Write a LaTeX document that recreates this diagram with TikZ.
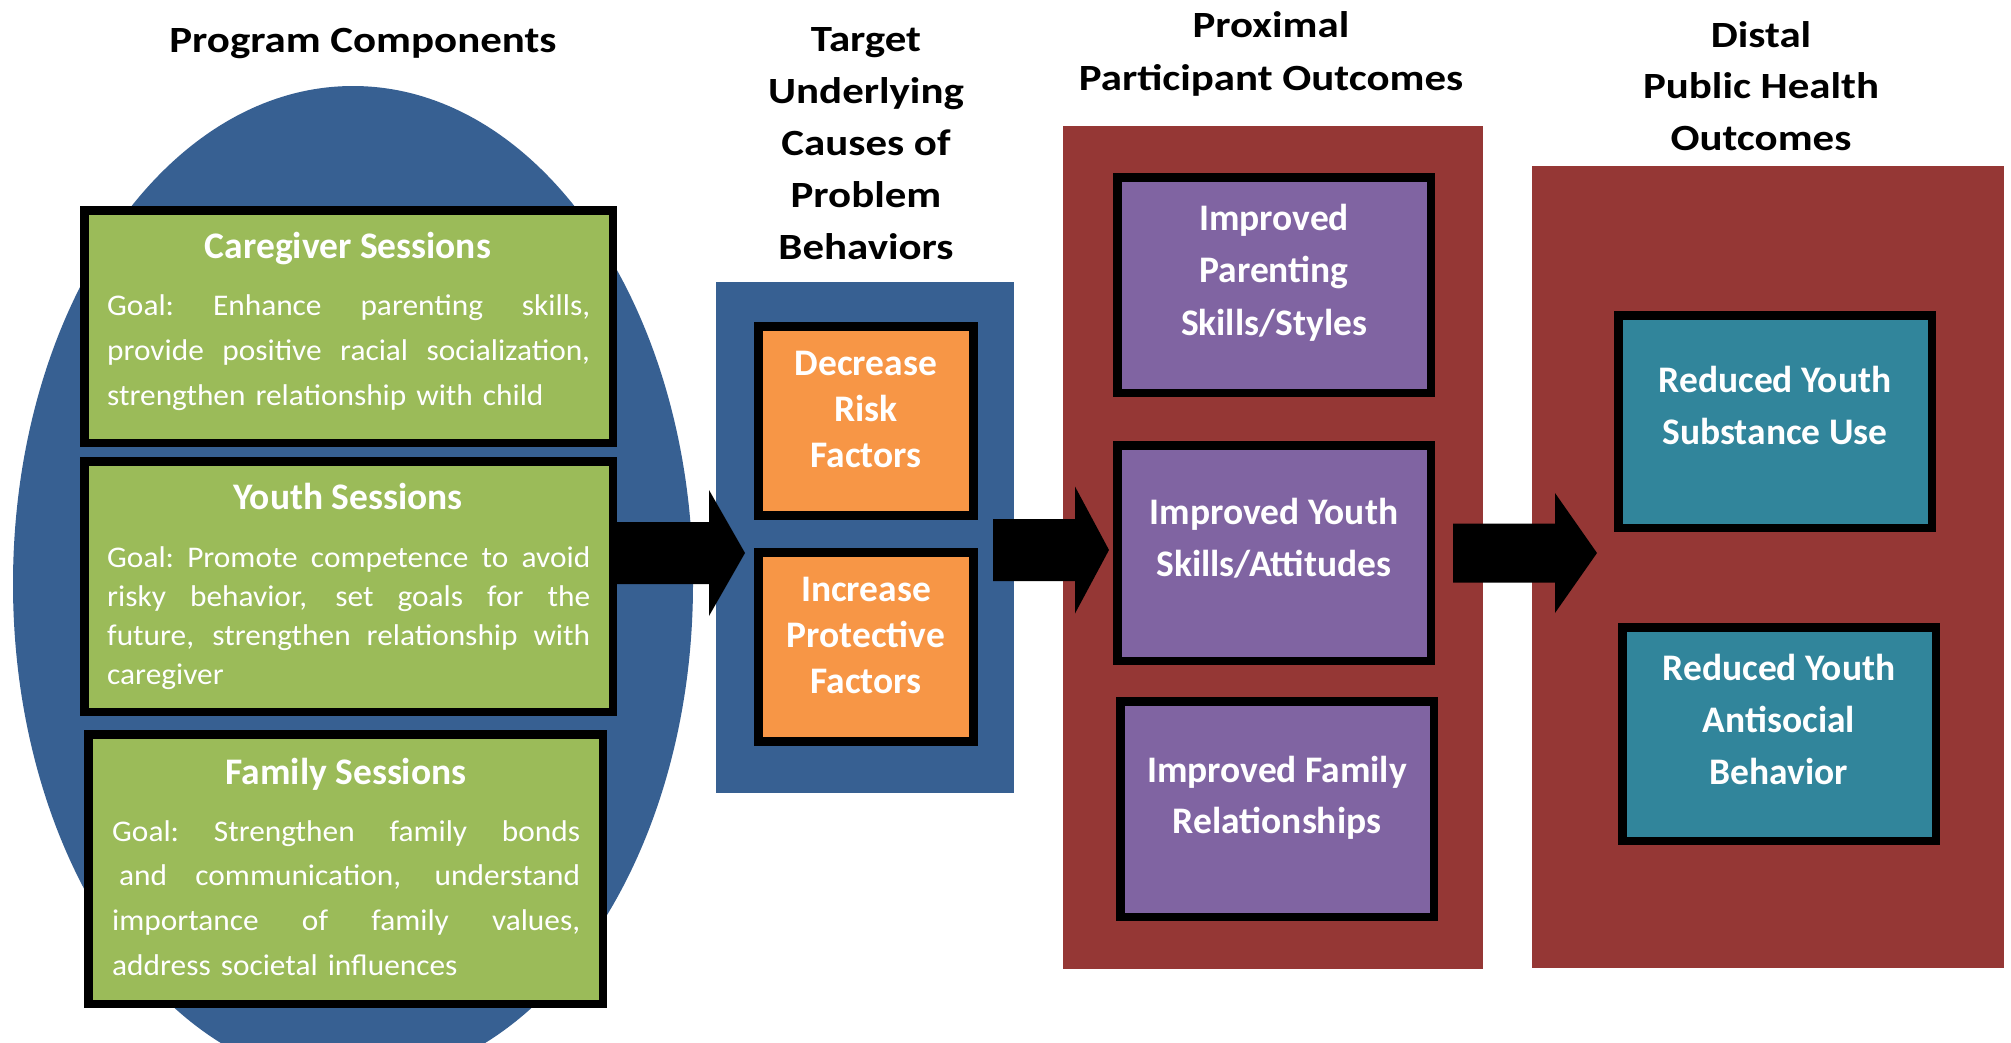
\documentclass[tikz,border=0pt]{standalone}
\usepackage{fontspec}
\setmainfont{Carlito}
\newfontfamily\headfont{Carlito}[FakeStretch=1.16]
\newfontfamily\goalfont{Carlito}[FakeStretch=1.045]
\usetikzlibrary{calc,shapes.geometric}

\definecolor{ovalblue}{RGB}{55,96,146}
\definecolor{sessgreen}{RGB}{155,187,89}
\definecolor{factorange}{RGB}{247,150,70}
\definecolor{outred}{RGB}{149,55,53}
\definecolor{proxpurple}{RGB}{128,100,162}
\definecolor{distteal}{RGB}{49,133,155}

% filled panel given by its outer corners: name, style, x1, y1, x2, y2
\newcommand\panelnode[6]{%
  \node[panel,#2, minimum width={#5-#3}, minimum height={#6-#4}]
    (#1) at ({(#3+#5)/2},{(#4+#6)/2}) {};}
% framed box given by its outer corners (frame drawn inside them)
\newcommand\framednode[6]{%
  \node[framed,#2, minimum width={#5-#3-8.5}, minimum height={#6-#4-8.5}]
    (#1) at ({(#3+#5)/2},{(#4+#6)/2}) {};}
% block arrow: start, tip, half shaft, half head, head length
\newcommand\blockarrow[5]{%
  \fill[black] ($(#1)+(0,-#3)$) -- ($(#2)+(-#5,-#3)$) -- ($(#2)+(-#5,-#4)$)
    -- (#2) -- ($(#2)+(-#5,#4)$) -- ($(#2)+(-#5,#3)$) -- ($(#1)+(0,#3)$) -- cycle;}
% one fully justified line of a goal paragraph (interword spaces stretch)
\newcommand\jline[1]{\leavevmode\hbox to \hsize{%
  \spaceskip=\fontdimen2\font plus 1fil\relax\xspaceskip=\spaceskip #1}}

\begin{document}
\begin{tikzpicture}[x=1pt,y=-1pt,
  panel/.style={rectangle, draw=none, inner sep=0pt, outer sep=0pt},
  framed/.style={rectangle, draw=black, line width=8.5pt, inner sep=0pt, outer sep=0pt},
  heading/.style={font=\headfont\fontsize{37}{52}\selectfont\bfseries, align=center,
    anchor=base, inner sep=0pt, text=black},
  boxlabel/.style={font=\fontsize{37.5}{52}\selectfont\bfseries, align=center,
    anchor=base, inner sep=0pt, text=white},
  goaltext/.style={font=\goalfont\fontsize{30}{45}\selectfont, align=left,
    anchor=base west, inner sep=0pt, text=white},
]
\useasboundingbox (0,0) rectangle (2011,1042);
\fill[white] (0,0) rectangle (2011,1042);
\clip (0,0) rectangle (2011,1042);

% ---- column headings (anchored at the baseline of their last line)
\node[heading] (hProg) at (363,52) {Program Components};
\node[heading] (hTarget) at (866,259) {Target\\Underlying\\Causes of\\Problem\\Behaviors};
\node[heading, font=\headfont\fontsize{37}{53}\selectfont\bfseries] (hProx) at (1271,90)
  {Proximal\\Participant Outcomes};
\node[heading, font=\headfont\fontsize{37}{51.5}\selectfont\bfseries] (hDist) at (1761,150)
  {Distal\\Public Health\\Outcomes};

% ---- program components
\node[ellipse, fill=ovalblue, inner sep=0pt, minimum width=680, minimum height=996]
  (oval) at (353,584) {};

\framednode{caregiver}{fill=sessgreen}{80}{206}{617}{447}
\framednode{youth}{fill=sessgreen}{80}{457}{617}{716}
\framednode{family}{fill=sessgreen}{84}{730}{607}{1008}

% goal paragraphs are anchored at the baseline of their first line
\node[boxlabel] (cgTitle) at (348,258) {Caregiver Sessions};
\node[goaltext, text width=483] (cgGoal) at (107,315)
  {\jline{Goal: Enhance parenting skills,}\\
   \jline{provide positive racial socialization,}\\
   strengthen relationship with child};

\node[boxlabel] (ySTitle) at (348,509) {Youth Sessions};
\node[goaltext, text width=483, font=\goalfont\fontsize{30}{39.3}\selectfont] (yGoal) at (107,567)
  {\jline{Goal: Promote competence to avoid}\\
   \jline{risky behavior, set goals for the}\\
   \jline{future, strengthen relationship with}\\
   caregiver};

\node[boxlabel] (fmTitle) at (346,784) {Family Sessions};
\node[goaltext, text width=468, font=\goalfont\fontsize{30}{44.7}\selectfont] (fmGoal) at (112,841)
  {\jline{Goal: Strengthen family bonds}\\
   \jline{\hspace*{7pt}and communication, understand}\\
   \jline{importance of family values,}\\
   address societal influences};

% ---- underlying causes
\panelnode{target}{fill=ovalblue}{716}{282}{1014}{793}
\framednode{risk}{fill=factorange, line width=9pt}{754}{322}{978}{520}
\framednode{protect}{fill=factorange, line width=9pt}{754}{548}{978}{746}
\node[boxlabel, font=\fontsize{37.5}{46}\selectfont\bfseries] (riskTxt) at (866,467)
  {Decrease\\Risk\\Factors};
\node[boxlabel, font=\fontsize{37.5}{46}\selectfont\bfseries] (protTxt) at (866,693)
  {Increase\\Protective\\Factors};

% ---- proximal outcomes
\panelnode{prox}{fill=outred}{1063}{126}{1483}{969}
\framednode{parent}{fill=proxpurple}{1113}{173}{1435}{397}
\framednode{yskill}{fill=proxpurple}{1113}{441}{1435}{665}
\framednode{famrel}{fill=proxpurple}{1116}{697}{1438}{921}
\node[boxlabel, font=\fontsize{37.5}{52.5}\selectfont\bfseries] (parentTxt) at (1274,335)
  {Improved\\Parenting\\Skills/Styles};
\node[boxlabel] (yskillTxt) at (1274,576) {Improved Youth\\Skills/Attitudes};
\node[boxlabel, font=\fontsize{37.5}{51}\selectfont\bfseries] (famrelTxt) at (1277,833)
  {Improved Family\\Relationships};

% ---- distal outcomes
\panelnode{dist}{fill=outred}{1532}{166}{2004}{968}
\framednode{subst}{fill=distteal}{1614}{311}{1936}{532}
\framednode{antis}{fill=distteal}{1618}{623}{1940}{845}
\node[boxlabel] (substTxt) at (1775,444) {Reduced Youth\\Substance Use};
\node[boxlabel] (antisTxt) at (1779,784) {Reduced Youth\\Antisocial\\Behavior};

% ---- block arrows between the columns
\coordinate (a1t) at (745,553);
\coordinate (a1s) at (youth.east |- a1t);
\blockarrow{a1s}{a1t}{31}{63}{36}

\coordinate (a2t) at (1109,550);
\coordinate (a2s) at ($(target.east |- a2t)+(-21,0)$);
\blockarrow{a2s}{a2t}{31}{63.5}{34}

\coordinate (a3t) at (1597,553);
\coordinate (a3s) at ($(prox.east |- a3t)+(-30,0)$);
\blockarrow{a3s}{a3t}{29.5}{60}{42}
\end{tikzpicture}
\end{document}
